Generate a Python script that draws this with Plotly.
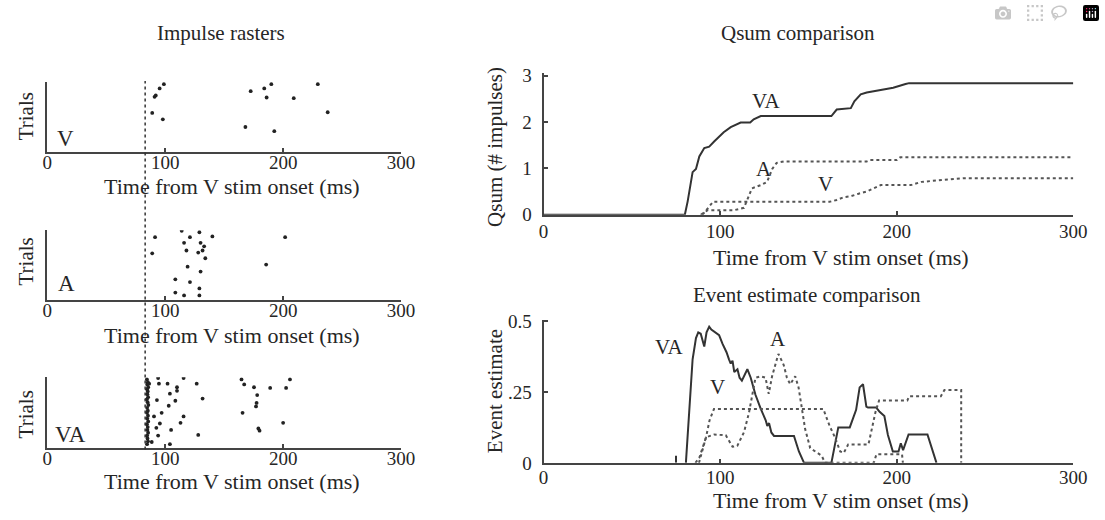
import plotly.graph_objects as go

# ---------------- data ----------------
# Raster V trials: spike times (ms) and trial position (fraction of trial axis)
V_raster_t = [98.9, 95.3, 91.0, 92.0, 89.0, 98.0, 172.5, 184.0, 190.0, 186.0, 209.0, 229.4, 237.8, 168.0, 192.5]
V_raster_f = [0.97, 0.91, 0.79, 0.81, 0.56, 0.47, 0.87, 0.91, 0.97, 0.78, 0.77, 0.97, 0.57, 0.36, 0.30]

A_raster_t = [91.4, 89.0, 114.0, 121.0, 129.0, 140.0, 116.0, 130.0, 133.0, 118.0, 128.0, 131.7, 134.0,
              119.0, 130.0, 108.6, 121.0, 108.6, 116.0, 129.0, 129.0, 201.7, 185.6]
A_raster_f = [0.90, 0.67, 0.99, 0.90, 0.97, 0.91, 0.82, 0.82, 0.77, 0.71, 0.68, 0.71, 0.60,
              0.48, 0.41, 0.30, 0.26, 0.11, 0.07, 0.17, 0.07, 0.90, 0.51]

VA_raster_t = [94.0, 115.6, 86.4, 94.7, 102.0, 126.7, 110.0, 110.0, 104.0, 93.0, 108.6, 131.7, 103.0,
               97.0, 90.5, 115.6, 113.0, 95.5, 92.5, 105.0, 94.0, 128.0, 88.6, 104.0,
               164.7, 167.0, 205.8, 175.3, 189.0, 202.5, 178.0, 177.5, 177.0, 165.6, 179.0, 180.0, 200.0,
               84.5, 85.3, 84.8, 85.6, 84.6, 85.2, 84.9, 85.5, 84.4, 85.1, 85.7, 84.7, 85.3,
               84.6, 85.4, 84.8, 85.6, 84.5, 85.2, 84.9, 85.5, 84.7, 85.0, 85.4, 84.6]
VA_raster_f = [0.99, 0.99, 0.91, 0.91, 0.91, 0.91, 0.86, 0.81, 0.77, 0.68, 0.67, 0.70, 0.60,
               0.50, 0.45, 0.45, 0.36, 0.35, 0.29, 0.26, 0.18, 0.19, 0.09, 0.06,
               0.97, 0.90, 0.97, 0.86, 0.85, 0.85, 0.75, 0.64, 0.59, 0.50, 0.28, 0.25, 0.36,
               0.97, 0.93, 0.90, 0.86, 0.83, 0.80, 0.76, 0.72, 0.69, 0.65, 0.61, 0.57, 0.53,
               0.50, 0.46, 0.42, 0.38, 0.34, 0.30, 0.26, 0.22, 0.18, 0.14, 0.10, 0.06]

V_STIM_MARK = 83  # dotted reference line in rasters (ms)

# Qsum curves
qsum_VA_t = [0, 80, 81.6, 83.5, 84.4, 86.3, 88.2, 91, 93.8, 96.6, 99.4, 102, 106, 109.8, 111.6, 117, 119, 123,
             163, 166, 174, 176, 179.6, 183, 189.5, 198, 205, 207, 300]
qsum_VA_v = [0, 0, 0.29, 0.78, 0.92, 0.99, 1.26, 1.44, 1.47, 1.58, 1.68, 1.78, 1.89, 1.96, 1.99, 1.99, 2.06, 2.13,
             2.13, 2.27, 2.30, 2.45, 2.60, 2.64, 2.69, 2.74, 2.82, 2.84, 2.84]
qsum_A_t = [89, 91, 93, 100, 108, 113.5, 115, 118, 123, 126.6, 129.5, 132, 136, 183, 185, 200, 202, 300]
qsum_A_v = [0, 0.05, 0.10, 0.10, 0.10, 0.15, 0.29, 0.57, 0.64, 0.71, 0.99, 1.12, 1.15, 1.15, 1.18, 1.18, 1.24, 1.24]
qsum_V_t = [90, 93, 96, 162, 166, 170, 174, 178, 183, 187, 191, 208, 214, 238, 300]
qsum_V_v = [0, 0.15, 0.28, 0.28, 0.32, 0.38, 0.40, 0.45, 0.50, 0.57, 0.64, 0.64, 0.71, 0.79, 0.79]

# Event estimate curves
ev_VA_t = [75, 75, None, 80.6, 82.5, 84.4, 86.3, 87.6, 89, 91, 92.3, 93.8, 95, 97, 99.4, 101.3, 103.6, 105,
           106, 107, 108, 109.8, 111, 112.3, 114, 115.4, 117.3, 120, 123, 125.8, 126.7, 127.7, 129, 130.5,
           141.8, 144.6, 147.5, 163, 166.9, 173.4, 177, 179, 180.9, 182.8, 183.7, 188.4, 190.3, 193, 195,
           197.8, 201, 202.3, 203.6, 206.7, 217.4, 220.2, 222.5]
ev_VA_v = [0, 0.025, None, 0, 0.17, 0.365, 0.44, 0.46, 0.455, 0.41, 0.46, 0.48, 0.47, 0.46, 0.45, 0.42, 0.39, 0.365,
           0.35, 0.36, 0.32, 0.33, 0.30, 0.29, 0.31, 0.33, 0.30, 0.24, 0.19, 0.15, 0.13, 0.14, 0.107, 0.095,
           0.095, 0.04, 0, 0, 0.125, 0.125, 0.187, 0.266, 0.277, 0.198, 0.195, 0.195, 0.18, 0.165, 0.098,
           0.04, 0.04, 0.069, 0.045, 0.10, 0.10, 0.045, 0]
ev_A_t = [86, 88.2, 92, 96.6, 103.2, 107, 109.7, 113.5, 116.3, 118.2, 120, 122.8, 125.7, 127.5, 129.4, 132.2,
          133, 136, 137.8, 139.7, 142.5, 144.4, 146.2, 148.1, 151, 154.7, 157.5, 159.4, 187, 188.5, 203, 203.5]
ev_A_v = [0, 0.018, 0.09, 0.10, 0.097, 0.057, 0.06, 0.108, 0.176, 0.243, 0.30, 0.305, 0.30, 0.243, 0.305, 0.367,
          0.384, 0.345, 0.30, 0.277, 0.305, 0.266, 0.187, 0.12, 0.052, 0.035, 0.025, 0, 0, 0.03, 0.03, 0]
ev_V_t = [88, 92, 94, 96.5, 158.4, 162, 165, 168, 170, 172.5, 184, 186, 188, 190, 206, 207, 225, 227, 236.5, 236.5]
ev_V_v = [0, 0.09, 0.15, 0.19, 0.19, 0.13, 0.09, 0.04, 0.035, 0.065, 0.065, 0.12, 0.18, 0.22, 0.22, 0.235,
          0.235, 0.257, 0.257, 0]

# ---------------- layout helpers ----------------
W, H = 1105, 520
def px(x):
    return x / W
def py(y):
    return 1 - y / H

FONT = "Liberation Serif, Times New Roman, serif"
TXT = "#262626"
AX = "#444444"

fig = go.Figure()

dot_marker = dict(size=3.8, color="#222222")
fig.add_trace(go.Scatter(x=V_raster_t, y=V_raster_f, mode="markers", marker=dot_marker, xaxis="x", yaxis="y", showlegend=False))
fig.add_trace(go.Scatter(x=A_raster_t, y=A_raster_f, mode="markers", marker=dot_marker, xaxis="x2", yaxis="y2", showlegend=False))
fig.add_trace(go.Scatter(x=VA_raster_t, y=VA_raster_f, mode="markers", marker=dot_marker, xaxis="x3", yaxis="y3", showlegend=False))

solid = dict(color="#333333", width=2)
dotted = dict(color="#555555", width=2, dash="dot")
fig.add_trace(go.Scatter(x=qsum_VA_t, y=qsum_VA_v, mode="lines", line=solid, xaxis="x4", yaxis="y4", showlegend=False))
fig.add_trace(go.Scatter(x=qsum_A_t, y=qsum_A_v, mode="lines", line=dotted, xaxis="x4", yaxis="y4", showlegend=False))
fig.add_trace(go.Scatter(x=qsum_V_t, y=qsum_V_v, mode="lines", line=dotted, xaxis="x4", yaxis="y4", showlegend=False))

fig.add_trace(go.Scatter(x=ev_VA_t, y=ev_VA_v, mode="lines", line=solid, xaxis="x5", yaxis="y5", showlegend=False, connectgaps=False))
fig.add_trace(go.Scatter(x=ev_A_t, y=ev_A_v, mode="lines", line=dotted, xaxis="x5", yaxis="y5", showlegend=False))
fig.add_trace(go.Scatter(x=ev_V_t, y=ev_V_v, mode="lines", line=dotted, xaxis="x5", yaxis="y5", showlegend=False))

tickfont = dict(family=FONT, size=19, color=TXT)
def xax(dom, anchor, standoff=0):
    return dict(domain=dom, anchor=anchor, range=[0, 300], tickvals=[0, 100, 200, 300],
                showline=True, linecolor=AX, linewidth=2, ticks="inside", ticklen=4, tickwidth=1.5,
                tickcolor=AX, showgrid=False, zeroline=False, tickfont=tickfont, fixedrange=True,
                ticklabelstandoff=standoff)
def yraster(dom, anchor):
    return dict(domain=dom, anchor=anchor, range=[0, 1], showline=True, linecolor=AX, linewidth=2,
                showticklabels=False, ticks="", showgrid=False, zeroline=False, fixedrange=True)

rx = [px(43), px(403)]
qx = [px(548), px(1087)]

fig.update_layout(
    width=W, height=H, margin=dict(l=0, r=0, t=0, b=0),
    paper_bgcolor="white", plot_bgcolor="white",
    xaxis=xax(rx, "y", -8), yaxis=yraster([py(149), py(76)], "x"),
    xaxis2=xax(rx, "y2", -8), yaxis2=yraster([py(303), py(230)], "x2"),
    xaxis3=xax(rx, "y3", -8), yaxis3=yraster([py(457), py(383)], "x3"),
    xaxis4=xax(qx, "y4", -2),
    yaxis4=dict(domain=[py(214), py(67)], anchor="x4", range=[0, 3.05], tickvals=[0, 1, 2, 3],
                showline=True, linecolor=AX, linewidth=2, ticks="inside", ticklen=4, tickwidth=1.5,
                tickcolor=AX, showgrid=False, zeroline=False, tickfont=tickfont, ticklabelstandoff=6,
                fixedrange=True),
    xaxis5=xax(qx, "y5", -4),
    yaxis5=dict(domain=[py(472), py(323)], anchor="x5", range=[0, 0.505], tickvals=[0, 0.25, 0.5],
                ticktext=["0", ".25", "0.5"], showline=True, linecolor=AX, linewidth=2, ticks="inside",
                ticklen=4, tickwidth=1.5, tickcolor=AX, showgrid=False, zeroline=False,
                tickfont=tickfont, ticklabelstandoff=6, fixedrange=True),
)

# dotted reference line through the three rasters
fig.add_shape(type="line", xref="x", yref="paper", x0=V_STIM_MARK, x1=V_STIM_MARK,
              y0=py(458), y1=py(75), line=dict(color="#333333", width=1.5, dash="dot"))

def text(s, x, y, size=21, angle=0, xanchor="center"):
    fig.add_annotation(text=s, x=px(x), y=py(y), xref="paper", yref="paper", showarrow=False,
                       xanchor=xanchor, yanchor="middle", textangle=angle,
                       font=dict(family=FONT, size=size, color=TXT))

# titles
text("Impulse rasters", 220, 25, 21)
text("Qsum comparison", 727, 25, 21, xanchor="left")
text("Event estimate comparison", 698, 297, 21, xanchor="left")

# raster axis titles and labels
for yb, ylab, lab, labx, laby in [(185, 112, "V", 62, 135), (340, 263, "A", 63, 285), (491, 422, "VA", 67, 443)]:
    text("Time from V stim onset (ms)", 231, yb, 22)
    text("Trials", 21, ylab, 21, angle=-90)
    text(lab, labx, laby, 23)

# right panel axis titles
text("Time from V stim onset (ms)", 851, 258, 22)
text("Time from V stim onset (ms)", 851, 511, 22)
text("Qsum (# impulses)", 498, 143, 21, angle=-90)
text("Event estimate", 498, 397, 21, angle=-90)

# curve labels
text("VA", 774, 96, 21)
text("A", 772, 166, 21)
text("V", 835, 182, 21)
text("VA", 676, 352, 21)
text("A", 787, 343, 21)
text("V", 725, 393, 21)

fig.write_html("out.html", post_script="document.body.style.margin='0';")
